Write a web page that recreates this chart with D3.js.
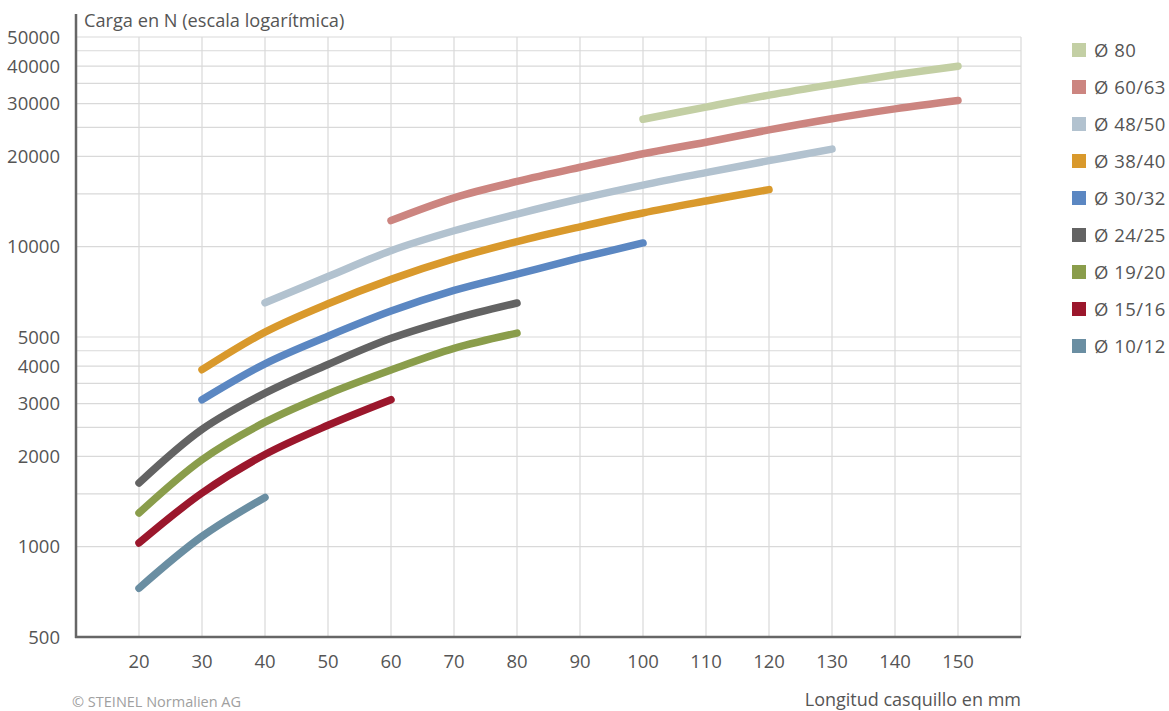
<!DOCTYPE html>
<html>
<head>
  <meta charset="utf-8">
  <script src="https://cdn.jsdelivr.net/npm/d3@7"></script>
  <style>
    body { margin: 0; background: #fff; }
    text { font-family: "Open Sans", sans-serif; fill: #555; }
  </style>
</head>
<body>
  <svg width="1169" height="711"></svg>
  <script>
    // x ticks (Longitud casquillo en mm) and y ticks (Carga en N)
    const xTicks = [20, 30, 40, 50, 60, 70, 80, 90, 100, 110, 120, 130, 140, 150];
    const yTicks = [500, 1000, 2000, 3000, 4000, 5000, 10000, 20000, 30000, 40000, 50000];
    const yGrid = [1000, 1500, 2000, 2500, 3000, 3500, 4000, 4500, 5000,
                   10000, 15000, 20000, 25000, 30000, 35000, 40000, 45000, 50000];

    // series: label, colour, first length, values in N every 10 mm
    const names  = ['Ø 80', 'Ø 60/63', 'Ø 48/50', 'Ø 38/40', 'Ø 30/32', 'Ø 24/25', 'Ø 19/20', 'Ø 15/16', 'Ø 10/12'];
    const colors = ['#c3cfa4', '#cc8580', '#b2c2cf', '#d9992c', '#5b87c2', '#636363', '#8a9d4b', '#9b172c', '#6a8ea2'];
    const starts = [100, 60, 40, 30, 30, 20, 20, 20, 20];
    const d80    = [26600, 29200, 32000, 34700, 37400, 39950];
    const d60    = [12220, 14550, 16500, 18400, 20400, 22300, 24500, 26700, 28800, 30700];
    const d48    = [6500, 7950, 9700, 11300, 12850, 14450, 16050, 17650, 19350, 21150];
    const d38    = [3890, 5190, 6450, 7780, 9120, 10400, 11650, 12950, 14200, 15500];
    const d30    = [3090, 4070, 5030, 6100, 7150, 8100, 9170, 10290];
    const d24    = [1630, 2460, 3250, 4050, 4950, 5750, 6490];
    const d19    = [1295, 1950, 2600, 3230, 3880, 4580, 5150];
    const d15    = [1029, 1510, 2030, 2540, 3090];
    const d10    = [727, 1082, 1460];
    const values = [d80, d60, d48, d38, d30, d24, d19, d15, d10];

    const svg = d3.select('svg');
    const x = d3.scaleLinear().domain([10, 160]).range([76, 1021]);
    const y = d3.scaleLog().domain([500, 50000]).range([637, 37]);

    // grid
    const grid = svg.append('g').attr('stroke', '#d9d9d9').attr('stroke-width', 1.2);
    grid.selectAll('.v').data(xTicks.concat([160])).enter().append('line')
      .attr('x1', d => x(d)).attr('x2', d => x(d))
      .attr('y1', y(50000)).attr('y2', y(500));
    grid.selectAll('.h').data(yGrid).enter().append('line')
      .attr('x1', x(10)).attr('x2', x(160))
      .attr('y1', d => y(d)).attr('y2', d => y(d));

    // axis lines
    svg.append('line').attr('x1', x(10)).attr('x2', x(10)).attr('y1', 14).attr('y2', y(500) + 1)
      .attr('stroke', '#666').attr('stroke-width', 2.5);
    svg.append('line').attr('x1', x(10) - 1).attr('x2', x(160)).attr('y1', y(500)).attr('y2', y(500))
      .attr('stroke', '#666').attr('stroke-width', 2.5);

    svg.append('g').selectAll('text').data(yTicks).enter().append('text')
      .attr('x', 60).attr('y', d => y(d)).attr('dy', '0.36em')
      .attr('text-anchor', 'end').attr('font-size', 18.5).text(d => d);
    svg.append('g').selectAll('text').data(xTicks).enter().append('text')
      .attr('x', d => x(d)).attr('y', 668)
      .attr('text-anchor', 'middle').attr('font-size', 18.5).text(d => d);

    svg.append('text').attr('x', 84).attr('y', 27).attr('font-size', 18.2)
      .text('Carga en N (escala logarítmica)');
    svg.append('text').attr('x', 1021).attr('y', 706).attr('font-size', 18)
      .attr('text-anchor', 'end').text('Longitud casquillo en mm');
    svg.append('text').attr('x', 72).attr('y', 707).attr('font-size', 14.5)
      .style('fill', '#a0a0a0').text('© STEINEL Normalien AG');

    // curves
    const line = d3.line()
      .x(d => x(d[0])).y(d => y(d[1]))
      .curve(d3.curveCatmullRom.alpha(0.5));
    const series = names.map((n, i) => ({
      name: n, color: colors[i],
      pts: values[i].map((v, j) => [starts[i] + 10 * j, v])
    }));
    svg.append('g').selectAll('path').data(series.slice().reverse()).enter().append('path')
      .attr('d', d => line(d.pts))
      .attr('fill', 'none').attr('stroke', d => d.color)
      .attr('stroke-width', 7.5).attr('stroke-linecap', 'round');

    // legend
    const leg = svg.append('g').selectAll('g').data(series).enter().append('g')
      .attr('transform', (d, i) => `translate(1072, ${50 + i * 37})`);
    leg.append('rect').attr('x', 0).attr('y', -7).attr('width', 14).attr('height', 14)
      .attr('fill', d => d.color);
    leg.append('text').attr('x', 22).attr('dy', '0.36em').attr('font-size', 18.5)
      .attr('letter-spacing', 0.5).text(d => d.name);
  </script>
</body>
</html>
